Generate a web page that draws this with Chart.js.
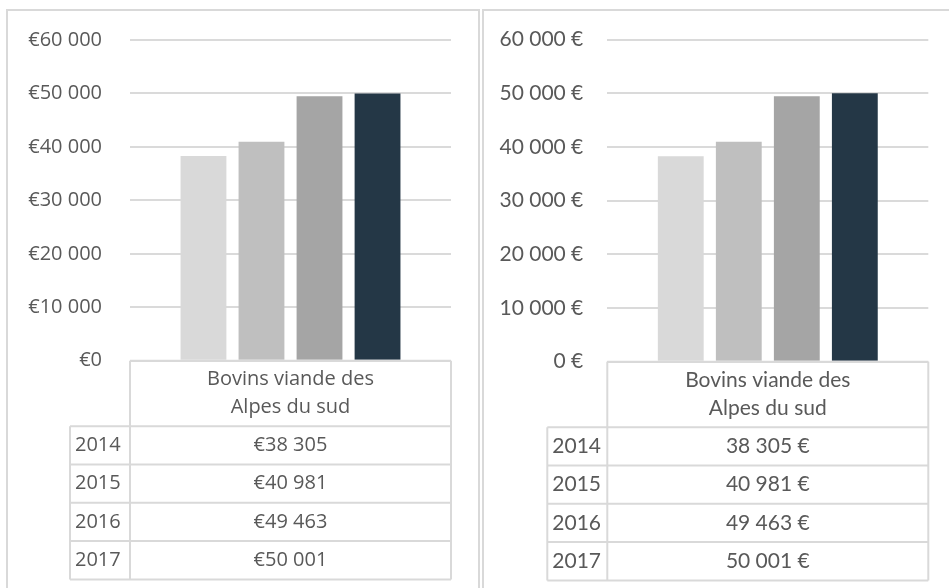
<!DOCTYPE html>
<html lang="fr">
<head>
<meta charset="UTF-8">
<title>Bovins viande des Alpes du sud</title>
<script src="https://cdn.jsdelivr.net/npm/chart.js"></script>
<style>
  body { margin: 0; width: 949px; height: 588px; overflow: hidden; background: #fff; position: relative; }
  .panel { position: absolute; top: 9px; height: 600px; border: 2px solid #d9d9d9; border-bottom: none; }
  #p1 { left: 6px; width: 470px; }
  #p2 { left: 482px; width: 480px; }
  canvas { position: absolute; top: 0; }
  #c1 { left: 0; }
  #c2 { left: 480px; }
</style>
</head>
<body>
<div class="panel" id="p1"></div>
<div class="panel" id="p2"></div>
<canvas id="c1" width="480" height="588"></canvas>
<canvas id="c2" width="469" height="588"></canvas>

<script>
// données
const categoryLines = ['Bovins viande des', 'Alpes du sud'];
const years = ['2014', '2015', '2016', '2017'];
const values = [38305, 40981, 49463, 50001];
const barColors = ['#d9d9d9', '#bfbfbf', '#a5a5a5', '#243746'];
const yMin = 0, yMax = 60000, yStep = 10000;

// séparateur de milliers
function groupThousands(v) {
    return String(Math.round(v)).replace(/\B(?=(\d{3})+(?!\d))/g, ' ');
}
const fmtPrefix = v => '€' + groupThousands(v);
const fmtSuffix = v => groupThousands(v) + ' €';

// tableau de données sous le graphique
const tablePlugin = {
    id: 'dataTable',
    afterDraw(chart, args, opts) {
        const ctx = chart.ctx;
        const area = chart.chartArea;
        const top = chart.scales.y.getPixelForValue(0);
        const left = area.left, right = area.right;
        const x0 = left - opts.yearColW;
        const headBottom = top + opts.headerH;
        const bottom = headBottom + opts.rowH * years.length;

        ctx.save();
        ctx.strokeStyle = '#d9d9d9';
        ctx.lineWidth = 2;
        ctx.beginPath();
        ctx.moveTo(left, top); ctx.lineTo(right, top);
        ctx.moveTo(left, top); ctx.lineTo(left, bottom);
        ctx.moveTo(right, top); ctx.lineTo(right, bottom);
        ctx.moveTo(x0, headBottom); ctx.lineTo(x0, bottom);
        for (let i = 0; i <= years.length; i++) {
            const y = headBottom + i * opts.rowH;
            ctx.moveTo(x0, y); ctx.lineTo(right, y);
        }
        ctx.stroke();

        ctx.fillStyle = '#595959';
        ctx.font = opts.font;
        ctx.textBaseline = 'middle';
        const cx = (left + right) / 2;
        ctx.textAlign = 'center';
        categoryLines.forEach((t, i) => ctx.fillText(t, cx, top + opts.headerLine1 + i * opts.lineGap));
        years.forEach((yr, i) => {
            const cy = headBottom + (i + 0.5) * opts.rowH;
            ctx.textAlign = 'left';
            ctx.fillText(yr, x0 + opts.yearPad, cy);
            ctx.textAlign = 'center';
            ctx.fillText(opts.fmt(values[i]), cx, cy);
        });
        ctx.restore();
    }
};

function makeChart(id, s) {
    return new Chart(document.getElementById(id), {
        type: 'bar',
        data: {
            labels: [categoryLines.join(' ')],
            datasets: years.map((yr, i) => ({
                label: yr,
                data: [values[i]],
                backgroundColor: barColors[i],
                barPercentage: 0.79,
                categoryPercentage: 0.723
            }))
        },
        options: {
            responsive: false,
            animation: false,
            devicePixelRatio: 1,
            layout: { padding: { left: 0, right: s.padRight, top: s.padTop, bottom: s.padBottom } },
            plugins: {
                legend: { display: false },
                tooltip: { enabled: false },
                dataTable: {
                    font: s.font,
                    fmt: s.fmt,
                    yearColW: 60,
                    yearPad: 5,
                    headerH: 65.5,
                    rowH: 38.3,
                    headerLine1: 18.5,
                    lineGap: 28
                }
            },
            scales: {
                x: { display: false },
                y: {
                    min: yMin,
                    max: yMax,
                    afterFit: sc => { sc.width = s.axisW; },
                    ticks: {
                        stepSize: yStep,
                        padding: s.tickPad,
                        color: '#595959',
                        font: { family: s.family, size: s.size },
                        callback: v => s.fmt(v)
                    },
                    grid: { color: '#dadada', lineWidth: 2, drawTicks: false },
                    border: { display: false }
                }
            }
        },
        plugins: [tablePlugin]
    });
}

makeChart('c1', {
    family: "'Open Sans'", size: 20, font: "20px 'Open Sans'", fmt: fmtPrefix,
    axisW: 130, tickPad: 28, padRight: 29, padTop: 38.7, padBottom: 227.3
});
makeChart('c2', {
    family: 'Lato', size: 21, font: '21px Lato', fmt: fmtSuffix,
    axisW: 127.3, tickPad: 24, padRight: 20.7, padTop: 39.7, padBottom: 226.3
});
</script>
</body>
</html>
